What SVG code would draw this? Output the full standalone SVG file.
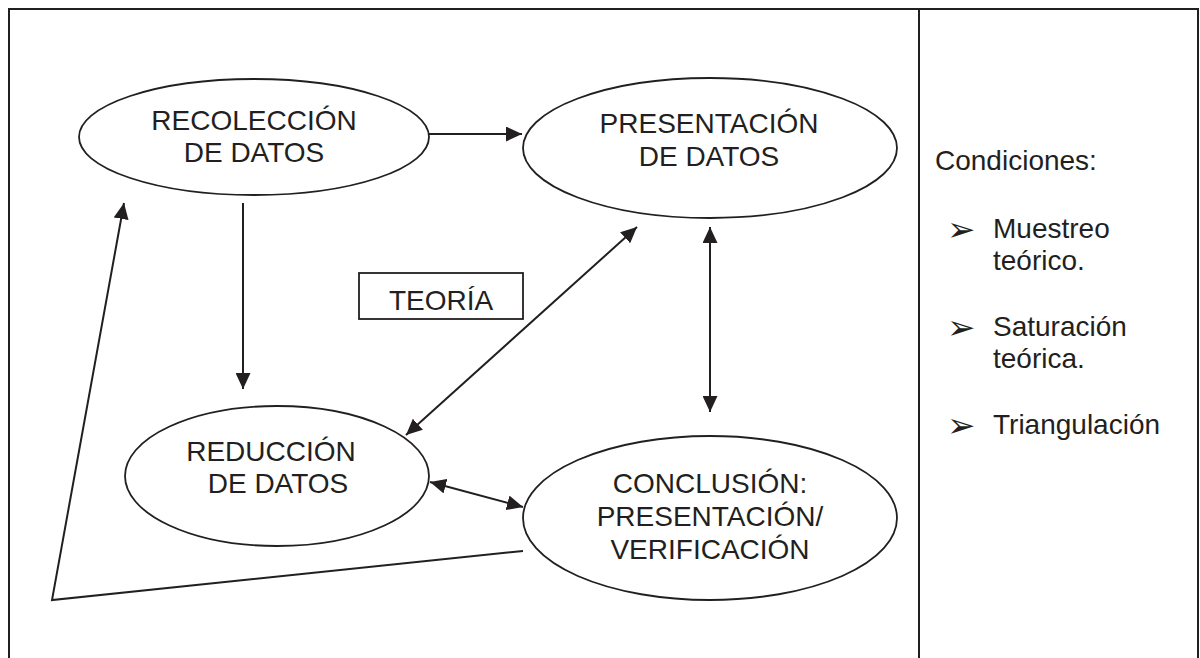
<svg xmlns="http://www.w3.org/2000/svg" width="1200" height="658" viewBox="0 0 1200 658">
<style>
  .frame { fill: none; stroke: #231f20; stroke-width: 2; }
  .node { fill: #ffffff; stroke: #231f20; stroke-width: 1.8; }
  .conn { fill: none; stroke: #231f20; stroke-width: 2; }
  .lbl { font-family: "Liberation Sans", Arial, sans-serif; font-size: 28px; fill: #231f20; text-anchor: middle; }
  .side { font-family: "Liberation Sans", Arial, sans-serif; font-size: 28px; fill: #231f20; }
  .bullet { font-family: "DejaVu Sans", sans-serif; font-size: 34px; fill: #231f20; }
</style>
<defs>
  <marker id="ah" viewBox="0 0 16 15" refX="16" refY="7.5" markerWidth="16" markerHeight="15" markerUnits="userSpaceOnUse" orient="auto-start-reverse">
    <path d="M0,0 L16,7.5 L0,15 Z" fill="#231f20"/>
  </marker>
</defs>
<rect width="1200" height="658" fill="#ffffff"/>
<g id="frame">
  <path class="frame" d="M9,660 V9 H1198 V660"/>
  <line class="frame" x1="919" y1="9" x2="919" y2="660"/>
</g>
<g id="connectors">
  <line class="conn" x1="429" y1="134" x2="522" y2="134" marker-end="url(#ah)"/>
  <line class="conn" x1="243" y1="203" x2="243" y2="389" marker-end="url(#ah)"/>
  <line class="conn" x1="406" y1="435" x2="637" y2="227" marker-start="url(#ah)" marker-end="url(#ah)"/>
  <line class="conn" x1="710" y1="227" x2="710" y2="412" marker-start="url(#ah)" marker-end="url(#ah)"/>
  <line class="conn" x1="430" y1="482" x2="523" y2="507" marker-start="url(#ah)" marker-end="url(#ah)"/>
  <polyline class="conn" points="523,551 52,600 124,203" marker-end="url(#ah)"/>
</g>
<g id="recoleccion">
  <ellipse class="node" cx="254" cy="137" rx="175" ry="58"/>
  <text class="lbl" x="254" y="130">RECOLECCIÓN</text>
  <text class="lbl" x="254" y="162">DE DATOS</text>
</g>
<g id="presentacion">
  <ellipse class="node" cx="710" cy="148" rx="187" ry="70"/>
  <text class="lbl" x="709" y="133">PRESENTACIÓN</text>
  <text class="lbl" x="709" y="166">DE DATOS</text>
</g>
<g id="reduccion">
  <ellipse class="node" cx="277" cy="476" rx="152" ry="70"/>
  <text class="lbl" x="271" y="461">REDUCCIÓN</text>
  <text class="lbl" x="278" y="493">DE DATOS</text>
</g>
<g id="conclusion">
  <ellipse class="node" cx="710" cy="518" rx="187" ry="82"/>
  <text class="lbl" x="710" y="493">CONCLUSIÓN:</text>
  <text class="lbl" x="710" y="526">PRESENTACIÓN/</text>
  <text class="lbl" x="710" y="559">VERIFICACIÓN</text>
</g>
<g id="teoria">
  <rect x="359" y="273" width="164" height="46" fill="#ffffff" stroke="#231f20" stroke-width="1.8"/>
  <text class="lbl" x="441" y="310">TEORÍA</text>
</g>
<g id="condiciones">
  <text class="side" x="935" y="170">Condiciones:</text>
  <text class="bullet" x="947" y="241">➢</text>
  <text class="side" x="993" y="238">Muestreo</text>
  <text class="side" x="993" y="270">teórico.</text>
  <text class="bullet" x="947" y="339">➢</text>
  <text class="side" x="993" y="336">Saturación</text>
  <text class="side" x="993" y="368">teórica.</text>
  <text class="bullet" x="947" y="437">➢</text>
  <text class="side" x="993" y="434">Triangulación</text>
</g>
</svg>
